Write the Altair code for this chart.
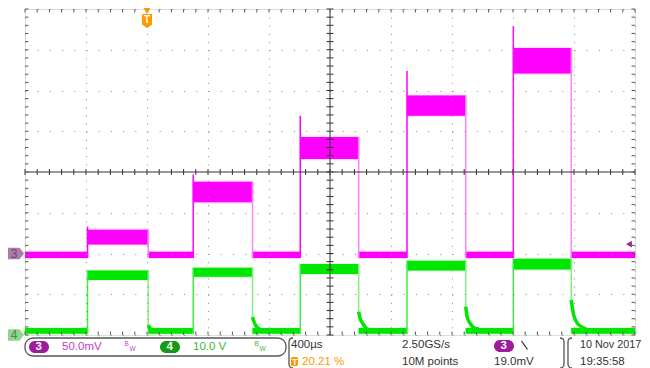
import altair as alt
import pandas as pd

FONT = "Liberation Sans"
W, H = 610, 326

# ---------------- scope settings ----------------
T_START_US, T_END_US = -800, 3200      # 400 µs/div, 10 div, trigger at 20 %
US_PER_DIV = 400
CH3_MV_PER_DIV = 50.0
CH3_OFFSET_DIV = -2.0
CH4_V_PER_DIV = 10.0
CH4_OFFSET_DIV = -4.0
TRIG_MARK_DIV = -1.77

# ---------------- waveform values ----------------
pulse_start_us = [-390, 303, 1005, 1705, 2402]
pulse_end_us = [8, 692, 1388, 2090, 2782]
ch3_pulse_lo_mV = [11, 63, 116, 169, 221]
ch3_pulse_hi_mV = [29, 88, 143, 194, 252]
ch3_spike_mV = [33, 97, 169, 224, 279]
ch3_base_mV = [-5.5, 2.0]
ch4_pulse_lo_V = [13.5, 14.3, 15.0, 15.8, 16.1]
ch4_pulse_hi_V = [15.8, 16.5, 17.4, 18.2, 18.7]
ch4_base_V = [0.3, 1.7]
tail_pulse = [0, 0, 0, 0, 1, 1, 1, 1, 1, 2, 2, 2, 2, 2, 3, 3, 3, 3, 3, 3, 4, 4, 4, 4, 4, 4]
tail_dt_us = [0, 11, 31, 77, 0, 10, 23, 43, 82, 0, 9, 29, 48, 88, 0, 9, 28, 50, 83, 110, 0, 13, 35, 68, 101, 130]
tail_V = [2.45, 1.72, 1.23, 0.98, 4.42, 3.19, 2.21, 1.47, 0.98, 5.72, 4.17, 2.70, 1.72, 0.98,
          7.0, 4.5, 2.9, 1.9, 1.4, 1.0, 8.6, 5.4, 3.2, 2.0, 1.4, 1.0]

# ---------------- status bar texts ----------------
ch3_scale = "50.0mV"
ch4_scale = "10.0 V"
timebase = "400µs"
sample_rate = "2.50GS/s"
record_len = "10M points"
trig_pos = "20.21 %"
trig_level = "19.0mV"
date_txt = "10 Nov 2017"
time_txt = "19:35:58"

MAGENTA = "#ff00ff"
GREEN = "#00e600"


def d3(mv):
    return mv / CH3_MV_PER_DIV + CH3_OFFSET_DIV


def d4(v):
    return v / CH4_V_PER_DIV + CH4_OFFSET_DIV


# ---------------- tables ----------------
base_s = [T_START_US] + pulse_end_us
base_e = pulse_start_us + [T_END_US]
r3, r4 = [], []
for s, e in zip(base_s, base_e):
    r4.append(dict(t0=s, t1=e, y0=d4(ch4_base_V[0]), y1=d4(ch4_base_V[1])))
    r3.append(dict(t0=s, t1=e, y0=d3(ch3_base_mV[0]), y1=d3(ch3_base_mV[1])))
for i in range(5):
    r4.append(dict(t0=pulse_start_us[i], t1=pulse_end_us[i], y0=d4(ch4_pulse_lo_V[i]), y1=d4(ch4_pulse_hi_V[i])))
    r3.append(dict(t0=pulse_start_us[i], t1=pulse_end_us[i], y0=d3(ch3_pulse_lo_mV[i]), y1=d3(ch3_pulse_hi_mV[i])))
r3, r4 = pd.DataFrame(r3), pd.DataFrame(r4)

tail_start = {p: v for p, d, v in zip(tail_pulse, tail_dt_us, tail_V) if d == 0}
g_rise = pd.DataFrame(dict(t=pulse_start_us, ya=[d4(ch4_base_V[0])] * 5, yb=[d4(v) for v in ch4_pulse_hi_V]))
g_fall = pd.DataFrame(dict(t=pulse_end_us, ya=[d4(tail_start[i]) for i in range(5)], yb=[d4(v) for v in ch4_pulse_hi_V]))
m_rise = pd.DataFrame(dict(t=pulse_start_us, ya=[d3(ch3_base_mV[0])] * 5, yb=[d3(v) for v in ch3_spike_mV]))
m_fall = pd.DataFrame(dict(t=pulse_end_us, ya=[d3(ch3_base_mV[0])] * 5, yb=[d3(v) for v in ch3_pulse_hi_mV]))

tails = pd.DataFrame(dict(
    p=tail_pulse,
    t=[pulse_end_us[p] + d for p, d in zip(tail_pulse, tail_dt_us)],
    y=[d4(v) for v in tail_V],
))

minor_t = pd.DataFrame(dict(t=[T_START_US + US_PER_DIV * i / 5 for i in range(51)]))
minor_y = pd.DataFrame(dict(y=[-4 + i / 5 for i in range(41)]))
one = pd.DataFrame({"k": [0]})

# ---------------- scales / axes ----------------
xs = alt.Scale(domain=[T_START_US, T_END_US], nice=False, zero=False)
ys = alt.Scale(domain=[-4, 4], nice=False, zero=False)
x_axis = alt.Axis(values=[T_START_US + US_PER_DIV * k for k in range(11)], grid=True,
                  gridColor="#8a8a8a", gridDash=[1, 7.15], gridWidth=1, domain=False,
                  labels=False, ticks=False, title=None, zindex=1)
y_axis = alt.Axis(values=list(range(-4, 5)), grid=True, gridColor="#8a8a8a",
                  gridDash=[1, 11.2], gridWidth=1, domain=False, labels=False,
                  ticks=False, title=None, zindex=1)


def X(f):
    return alt.X(f"{f}:Q", scale=xs, axis=x_axis)


def Y(f):
    return alt.Y(f"{f}:Q", scale=ys, axis=y_axis)


def bands(df, color):
    return alt.Chart(df).mark_rect(color=color).encode(x=X("t0"), x2="t1", y=Y("y0"), y2="y1")


def fuzz(df, color):
    # faint noisy fringe around each band
    return alt.Chart(df).mark_rect(color=color, opacity=0.35, stroke=color, strokeWidth=2.5,
                                   strokeOpacity=0.35).encode(x=X("t0"), x2="t1", y=Y("y0"), y2="y1")


def edge(df, color):
    return alt.Chart(df).mark_rule(color=color, strokeWidth=1.5).encode(x=X("t"), y=Y("ya"), y2="yb")


tail_layer = alt.Chart(tails).mark_line(color=GREEN, strokeWidth=3.5, interpolate="monotone").encode(
    x=X("t"), y=Y("y"), detail="p:N")

# graticule (drawn over the traces)
TICK = "#5a5a5a"
center_v = alt.Chart(one).mark_rule(color="#303030", strokeWidth=1).encode(
    x=alt.datum(T_START_US + 5 * US_PER_DIV))
center_h = alt.Chart(one).mark_rule(color="#303030", strokeWidth=1).encode(y=alt.datum(0))
tk_top = alt.Chart(minor_t).mark_rule(color=TICK).encode(x=X("t"), y=alt.value(0), y2=alt.value(3.5))
tk_bot = alt.Chart(minor_t).mark_rule(color=TICK).encode(x=X("t"), y=alt.value(H - 3.5), y2=alt.value(H))
tk_ch = alt.Chart(minor_t).mark_rule(color="#303030").encode(x=X("t"), y=alt.value(H / 2 - 3), y2=alt.value(H / 2 + 3))
tk_left = alt.Chart(minor_y).mark_rule(color=TICK).encode(y=Y("y"), x=alt.value(0), x2=alt.value(3.5))
tk_right = alt.Chart(minor_y).mark_rule(color=TICK).encode(y=Y("y"), x=alt.value(W - 3.5), x2=alt.value(W))
tk_cv = alt.Chart(minor_y).mark_rule(color="#303030").encode(y=Y("y"), x=alt.value(W / 2 - 3.5), x2=alt.value(W / 2 + 3.5))

# channel ground markers
PENT = "M-1,-0.72L0.45,-0.72L1,0L0.45,0.72L-1,0.72Z"
m3 = alt.Chart(one).mark_point(shape=PENT, size=256, filled=True, opacity=1, color="#ab7dab").encode(
    x=alt.value(-9), y=alt.datum(CH3_OFFSET_DIV))
m3t = alt.Chart(one).mark_text(text="3", font=FONT, fontSize=12, color="#6d4a6d").encode(
    x=alt.value(-11), y=alt.datum(CH3_OFFSET_DIV))
m4 = alt.Chart(one).mark_point(shape=PENT, size=256, filled=True, opacity=1, color="#8cd88c").encode(
    x=alt.value(-9), y=alt.datum(CH4_OFFSET_DIV))
m4t = alt.Chart(one).mark_text(text="4", font=FONT, fontSize=12, color="#5d7d5d").encode(
    x=alt.value(-11), y=alt.datum(CH4_OFFSET_DIV))
trig_arrow = alt.Chart(one).mark_point(shape="triangle-left", size=45, filled=True, opacity=1,
                                       color="#a020a0").encode(x=alt.value(W - 6), y=alt.datum(TRIG_MARK_DIV))

# trigger position marker at top
ORANGE = "#ff9900"
t_tri = alt.Chart(one).mark_point(shape="triangle-down", size=45, filled=True, opacity=1, color=ORANGE).encode(
    x=alt.datum(0), y=alt.value(2))
BADGE = "M-0.72,-0.9Q-0.72,-1 -0.6,-1L0.6,-1Q0.72,-1 0.72,-0.9L0.72,0.5L0,1L-0.72,0.5Z"
t_badge = alt.Chart(one).mark_point(shape=BADGE, size=196, filled=True, opacity=1, color=ORANGE).encode(
    x=alt.datum(0), y=alt.value(12))
t_badge_t = alt.Chart(one).mark_text(text="T", font=FONT, fontSize=10, fontWeight="bold", color="white").encode(
    x=alt.datum(0), y=alt.value(11))


# ---------------- status bar helpers ----------------
def label(s, x, y, color="#333333", size=11.5, weight="normal"):
    return alt.Chart(one).mark_text(text=s, align="left", baseline="middle", font=FONT, fontSize=size,
                                    fontWeight=weight, color=color).encode(x=alt.value(x), y=alt.value(y))


def rrect(x0, x1, y0, y1, fill, r=6, stroke=None):
    kw = dict(cornerRadius=r, color=fill)
    if stroke:
        kw = dict(cornerRadius=r, fill="white", fillOpacity=0, stroke=stroke, strokeWidth=1.3)
    return alt.Chart(one).mark_rect(**kw).encode(
        x=alt.value(x0), x2=alt.value(x1), y=alt.value(y0), y2=alt.value(y1))


def bracket(x, y, left=True):
    path = "M0.27,-1Q0,-1 0,-0.73L0,0.73Q0,1 0.27,1" if left else "M-0.27,-1Q0,-1 0,-0.73L0,0.73Q0,1 -0.27,1"
    return alt.Chart(one).mark_point(shape=path, size=900, filled=False, opacity=1, stroke="#555555",
                                     strokeWidth=1.3).encode(x=alt.value(x), y=alt.value(y))


def pill(x0, y0, fill, s):
    return [rrect(x0, x0 + 20, y0, y0 + 12, fill, r=6),
            label(s, x0 + 6.5, y0 + 6, color="white", size=11.5, weight="bold")]


PURPLE = "#9c1c9c"
MTEXT = "#c63cc6"
GTEXT = "#33bb33"
status = [rrect(0, 261, 329, 347, None, r=8, stroke="#555555")]
status += pill(4, 332, PURPLE, "3")
status += [label(ch3_scale, 37, 338, color=MTEXT),
           label("B", 99.5, 335, color=MTEXT, size=6.5), label("W", 104.5, 340, color=MTEXT, size=6.5)]
status += pill(135, 332, "#159a15", "4")
status += [label(ch4_scale, 168, 338, color=GTEXT),
           label("B", 229.5, 335, color=GTEXT, size=6.5), label("W", 234.5, 340, color=GTEXT, size=6.5)]
status += [bracket(264, 344, True), bracket(539, 344, False), bracket(543, 344, True)]
status += [label(timebase, 266, 336),
           rrect(266, 273, 348, 357, ORANGE, r=1.5),
           label("T", 267.3, 352.8, color="white", size=8.5, weight="bold"),
           label(trig_pos, 277, 352.5, color=ORANGE),
           label(sample_rate, 377, 336),
           label(record_len, 377, 352.5)]
status += pill(469, 331, PURPLE, "3")
status += [alt.Chart(one).mark_rule(color="#333333", strokeWidth=1.3).encode(
    x=alt.value(496.5), x2=alt.value(502.5), y=alt.value(332), y2=alt.value(340.5)),
    label(trig_level, 469, 352.5),
    label(date_txt, 555, 336, size=10.8),
    label(time_txt, 555, 352.5)]

chart = alt.layer(
    fuzz(r4, GREEN), fuzz(r3, MAGENTA), bands(r4, GREEN), tail_layer, bands(r3, MAGENTA),
    edge(g_rise, "#40ee40"), edge(g_fall, "#80f080"), edge(m_rise, MAGENTA), edge(m_fall, "#ff80ff"),
    center_v, center_h, tk_top, tk_bot, tk_ch, tk_left, tk_right, tk_cv,
    m3, m3t, m4, m4t, trig_arrow, t_tri, t_badge, t_badge_t,
    *status,
).properties(
    width=W, height=H,
    autosize=alt.AutoSizeParams(type="none"),
    padding={"left": 17, "top": 1, "right": 7, "bottom": 33},
).configure_view(stroke="#3a3a3a", strokeWidth=2).configure(background="white")

chart.save("out.html", embed_options={"renderer": "svg", "actions": False})
